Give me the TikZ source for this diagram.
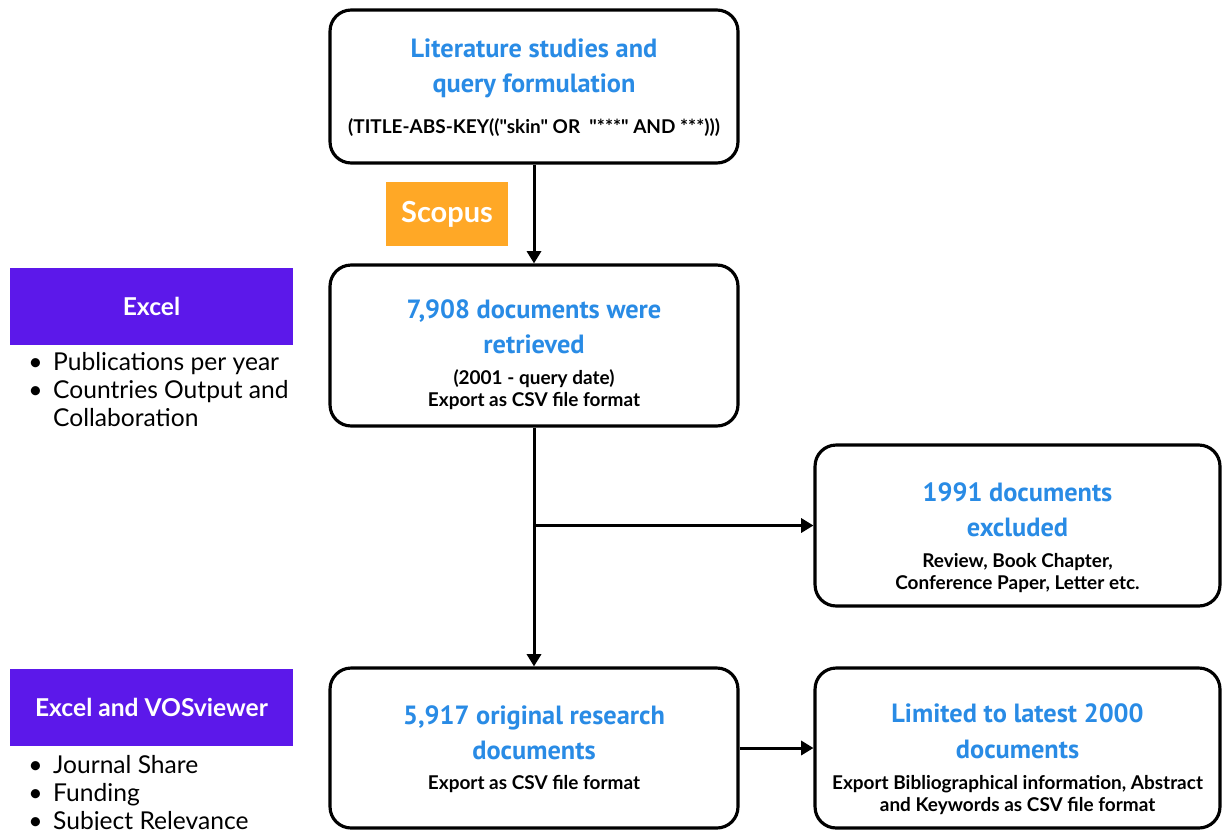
\documentclass[tikz,border=0pt]{standalone}
\usepackage{fontspec}
\setmainfont{Lato}
\newfontfamily\headfont{PT Sans}
\newfontfamily\notefont{Lato}
\usetikzlibrary{arrows.meta}

\definecolor{headblue}{RGB}{41,139,229}
\definecolor{toolpurple}{RGB}{92,24,234}
\definecolor{scopusorange}{RGB}{255,168,38}

\newcommand{\head}[1]{{\headfont\bfseries\color{headblue}\fontsize{15}{20}\selectfont\begin{tabular}{@{}c@{}}#1\end{tabular}}}
\newcommand{\note}[1]{{\notefont\bfseries\fontsize{10.8}{12.5}\selectfont\begin{tabular}{@{}c@{}}#1\end{tabular}}}
\newcommand{\pad}[1]{\rule{0pt}{#1}}

\tikzset{
  stage/.style={draw, line width=1.8pt, rounded corners=12pt, minimum width=8.16cm, align=center, inner sep=0pt},
  tool/.style={fill=toolpurple, text=white, font=\bfseries\fontsize{14}{17}\selectfont, minimum width=5.66cm, minimum height=1.54cm, inner sep=0pt},
  bullets/.style={inner sep=0pt, font=\fontsize{14}{16}\selectfont},
  flow/.style={line width=1.7pt, -{Triangle[length=7pt,width=8pt]}},
}

\begin{document}
\begin{tikzpicture}[x=0.02cm,y=-0.02cm]
\useasboundingbox (0,0) rectangle (1222,829);

\node[stage, minimum height=3.06cm] (query) at (534,86.5)
  {\head{Literature studies and\\query formulation}\\[8pt]\note{(TITLE-ABS-KEY((\char34 skin\char34\ OR\ \ \char34***\char34\ AND ***)))}};
\node[stage, minimum height=3.22cm] (retrieved) at (534,345.5)
  {\pad{33pt}\head{7,908 documents were\\retrieved}\\[2pt]\note{(2001 - query date)\\Export as CSV file format}};
\node[stage, minimum width=8.1cm, minimum height=3.22cm] (excluded) at (1017.5,525.5)
  {\pad{36pt}\head{1991 documents\\excluded}\\[2pt]\note{Review, Book Chapter,\\Conference Paper, Letter etc.}};
\node[stage, minimum height=3.2cm] (original) at (534,748)
  {\head{5,917 original research\\documents}\\[1pt]\note{Export as CSV file format}};
\node[stage, minimum width=8.1cm, minimum height=3.2cm] (latest) at (1017.5,748)
  {\pad{35pt}\head{Limited to latest 2000\\documents}\\[2pt]\note{Export Bibliographical information, Abstract\\and Keywords as CSV file format}};

\node[fill=scopusorange, text=white, font=\bfseries\fontsize{16.5}{19}\selectfont, minimum width=2.44cm, minimum height=1.28cm, inner sep=0pt] (scopus) at (447,214) {Scopus};

\node[tool] (excel) at (151.5,306.5) {Excel};
\node[tool] (excel vos) at (151.5,707.5) {Excel and VOSviewer};
\node[bullets, anchor=north west] (excel list) at (28,350)
  {\begin{tabular}{@{}l@{\hspace{6pt}}l@{}}\textbullet & Publications per year\\ \textbullet & Countries Output and\\ & Collaboration\end{tabular}};
\node[bullets, anchor=north west] (vos list) at (28,753)
  {\begin{tabular}{@{}l@{\hspace{6pt}}l@{}}\textbullet & Journal Share\\ \textbullet & Funding\\ \textbullet & Subject Relevance\end{tabular}};

\coordinate (split) at (retrieved.south |- excluded.west);
\draw[flow] (query) -- (retrieved);
\draw[flow] (retrieved) -- (original);
\draw[flow] (split) -- (excluded);
\draw[flow] (original) -- (latest);
\end{tikzpicture}
\end{document}
